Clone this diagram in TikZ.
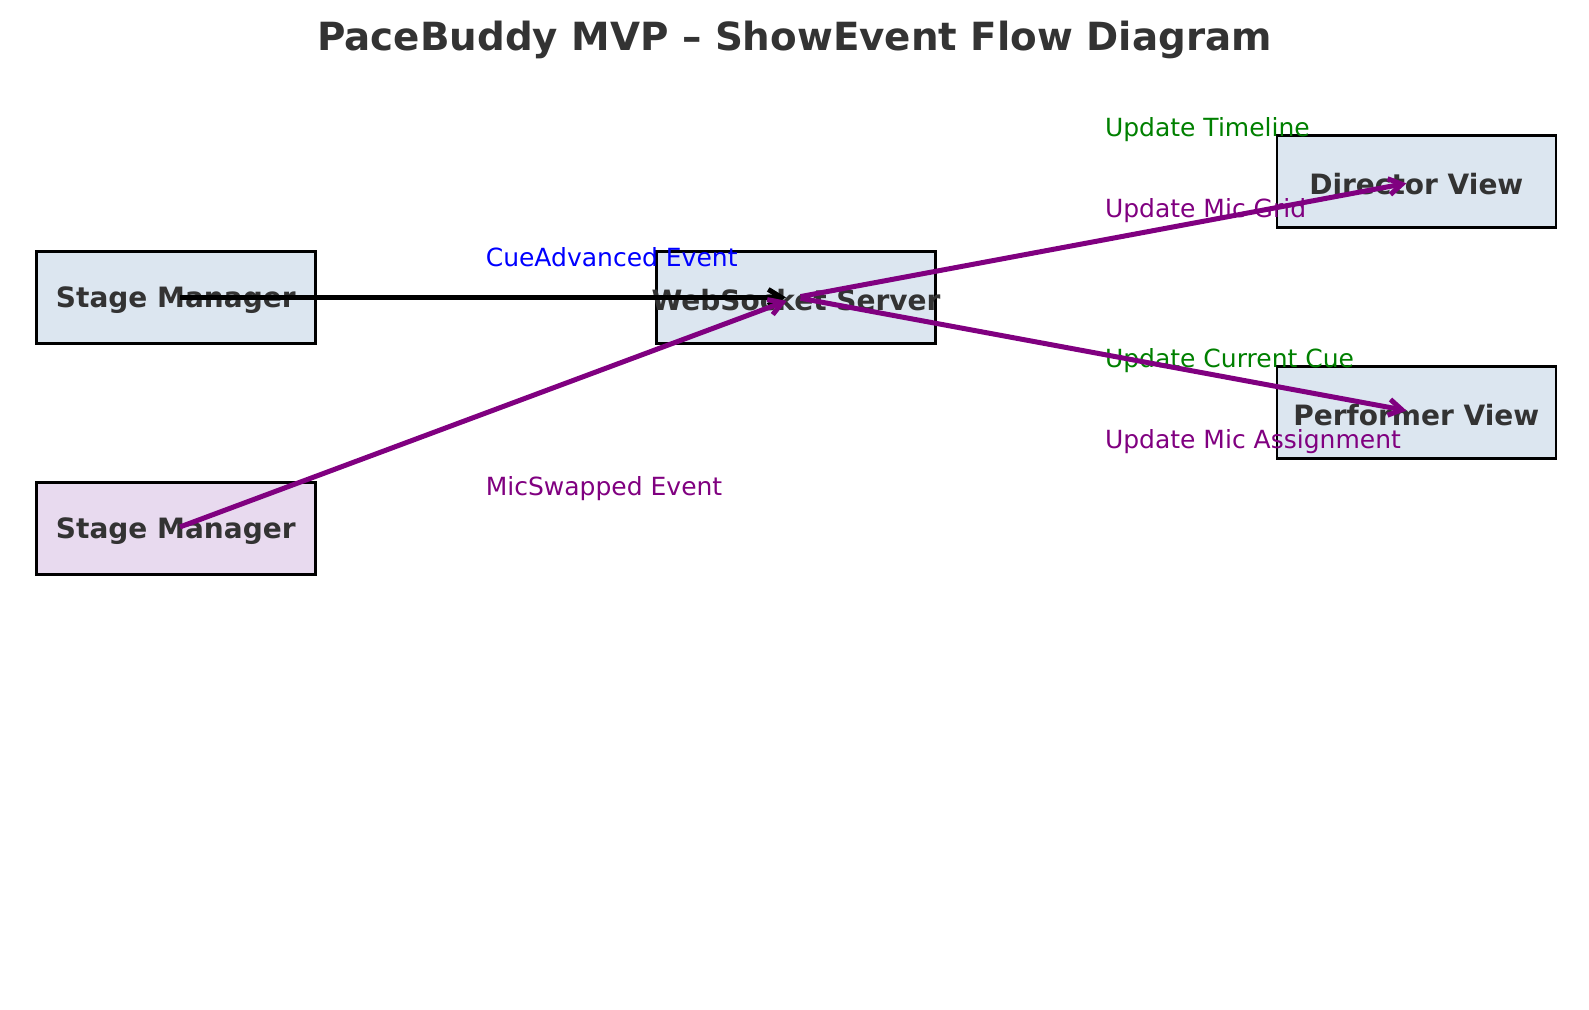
\documentclass[tikz,border=0pt]{standalone}
\usepackage{fontspec}
\setmainfont{DejaVu Sans}
\usetikzlibrary{arrows.meta,calc}
\definecolor{boxblue}{RGB}{220,230,240}
\definecolor{boxpurple}{RGB}{232,218,239}
\definecolor{txt}{RGB}{51,51,51}
\definecolor{mpurple}{RGB}{128,0,128}
\definecolor{mgreen}{RGB}{0,128,0}
\definecolor{mblue}{RGB}{0,0,255}
\begin{document}
\begin{tikzpicture}[x=0.5pt,y=-0.5pt,
  box/.style={draw=black,line width=1.2pt,minimum width=139.5pt,minimum height=46pt,inner sep=0pt,
    font=\fontsize{14}{16}\selectfont\bfseries,text=txt},
  btext/.style={inner sep=0pt,font=\fontsize{14}{16}\selectfont\bfseries,text=txt},
  elabel/.style={anchor=west,inner sep=0pt,font=\fontsize{12.5}{14}\selectfont},
  conn/.style={line width=2.5pt,-{Straight Barb[length=6.5pt,width=8pt]},shorten <=2.3pt,shorten >=5pt}]
\useasboundingbox (0,0) rectangle (1589,1010);
% title
\node[font=\fontsize{19.4}{22}\selectfont\bfseries,text=txt] (title) at (794.5,40) {PaceBuddy MVP – ShowEvent Flow Diagram};
% boxes
\node[box,fill=boxblue] (sm1) at (175.8,297.4) {};
\node[box,fill=boxblue] (ws) at (796,297.4) {};
\node[box,fill=boxblue] (dv) at (1416.3,181.5) {};
\node[box,fill=boxblue] (pv) at (1416.3,412.4) {};
\node[box,fill=boxpurple] (sm2) at (175.8,528.5) {};
\node[btext] (t1) at ($(sm1.center)+(0,2.5)$) {Stage Manager};
\node[btext] (t2) at ($(ws.center)+(0,2.5)$) {WebSocket Server};
\node[btext] (t3) at ($(dv.center)+(0,2.5)$) {Director View};
\node[btext] (t4) at ($(pv.center)+(0,2.5)$) {Performer View};
\node[btext] (t5) at ($(sm2.center)+(0,2.5)$) {Stage Manager};
% labels
\node[elabel,text=mblue] (l1) at (485.4,257.6) {CueAdvanced Event};
\node[elabel,text=mpurple] (l2) at (485.4,488.6) {MicSwapped Event};
\node[elabel,text=mgreen] (l3) at (1104.6,129.9) {Update Timeline};
\node[elabel,text=mpurple] (l4) at (1104.6,211) {Update Mic Grid};
\node[elabel,text=mgreen] (l5) at (1104.6,360.9) {Update Current Cue};
\node[elabel,text=mpurple] (l6) at (1104.6,442) {Update Mic Assignment};
% connectors
\draw[conn,black] (sm1.center) -- (ws.center);
\draw[conn,mpurple] (sm2.center) -- (ws.center);
\draw[conn,mpurple] (ws.center) -- (dv.center);
\draw[conn,mpurple] (ws.center) -- (pv.center);
\end{tikzpicture}
\end{document}
